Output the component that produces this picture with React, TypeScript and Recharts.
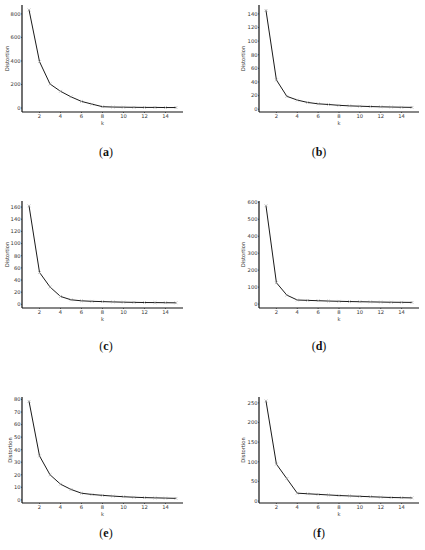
import { LineChart, Line, XAxis, YAxis } from 'recharts';

// k = 1..15 for every panel
const kValues = [1, 2, 3, 4, 5, 6, 7, 8, 9, 10, 11, 12, 13, 14, 15];
const kTicks = [2, 4, 6, 8, 10, 12, 14];

const distortionA = [834, 394, 204, 142, 95, 56, 33, 11, 8, 7, 6, 5, 5, 4, 4];
const distortionB = [145, 43, 19, 13.5, 10, 8, 7, 5.8, 5, 4.5, 4, 3.6, 3.3, 3, 2.8];
const distortionC = [162, 52.5, 28.5, 13, 7.5, 5.8, 5, 4.5, 4, 3.6, 3.3, 3, 2.9, 2.7, 2.5];
const distortionD = [580, 126, 53, 24, 22, 20, 18, 16.5, 15, 14, 13, 12, 11, 10.5, 10];
const distortionE = [78.5, 35, 20, 12.5, 8.3, 5.3, 4.3, 3.6, 3, 2.5, 2.1, 1.8, 1.6, 1.4, 1.2];
const distortionF = [255, 94, 57, 20, 18.5, 17, 15.5, 14, 13, 12, 11, 10, 9, 8.5, 8];

const ticksA = [0, 200, 400, 600, 800];
const ticksB = [0, 20, 40, 60, 80, 100, 120, 140];
const ticksC = [0, 20, 40, 60, 80, 100, 120, 140, 160];
const ticksD = [0, 100, 200, 300, 400, 500, 600];
const ticksE = [0, 10, 20, 30, 40, 50, 60, 70, 80];
const ticksF = [0, 50, 100, 150, 200, 250];

const toRows = (values: number[]) => kValues.map((k, i) => ({ k, d: values[i] }));

const XMark = (props: any) => {
  const { cx, cy } = props;
  if (cx == null || cy == null) return null;
  const s = 1.4;
  return (
    <path
      d={`M${cx - s},${cy - s}L${cx + s},${cy + s}M${cx - s},${cy + s}L${cx + s},${cy - s}`}
      stroke="#9a9a9a"
      strokeWidth={0.6}
      fill="none"
    />
  );
};

interface PanelProps {
  values: number[];
  ticks: number[];
  domain: [number, number];
  ox: number;
  top: number;
  bottom: number;
  right: number;
  labelOffset: number;
  caption: string;
  captionY: number;
}

const font = 'DejaVu Sans';
const tickStyle = { fontSize: 5.2, fill: '#333', fontFamily: font };
const labelStyle = { fontSize: 5.2, fill: '#333', fontFamily: font };

function Panel({ values, ticks, domain, ox, top, bottom, right, labelOffset, caption, captionY }: PanelProps) {
  const yw = 22;
  const xh = 18;
  const width = right - ox + yw + 6;
  const height = bottom - top + 5 + xh;
  const cx = ox > 200 ? 319 : 106;
  return (
    <>
      <div style={{ position: 'absolute', left: ox - yw, top: top - 5 }}>
        <LineChart
          width={width}
          height={height}
          data={toRows(values)}
          margin={{ top: 5, right: 6, left: 0, bottom: 0 }}
        >
          <XAxis
            dataKey="k"
            type="number"
            domain={[0.33, 15.67]}
            ticks={kTicks}
            allowDataOverflow
            height={xh}
            tick={tickStyle}
            tickSize={1}
            tickMargin={1}
            axisLine={{ stroke: '#111', strokeWidth: 1.2 }}
            tickLine={{ stroke: '#111', strokeWidth: 0.6 }}
            label={{ value: 'k', position: 'insideBottom', offset: 5, fill: '#333', style: labelStyle }}
          />
          <YAxis
            type="number"
            domain={domain}
            ticks={ticks}
            allowDataOverflow
            width={yw}
            tick={tickStyle}
            tickSize={1}
            tickMargin={0.5}
            axisLine={{ stroke: '#111', strokeWidth: 1.2 }}
            tickLine={{ stroke: '#111', strokeWidth: 0.6 }}
            label={{
              value: 'Distortion',
              angle: -90,
              position: 'insideLeft',
              offset: labelOffset,
              fill: '#333',
              style: { ...labelStyle, textAnchor: 'middle' }
            }}
          />
          <Line
            type="linear"
            dataKey="d"
            stroke="#1a1a1a"
            strokeWidth={1}
            dot={<XMark />}
            activeDot={false}
            isAnimationActive={false}
          />
        </LineChart>
      </div>
      <div
        style={{
          position: 'absolute',
          left: cx - 30,
          width: 60,
          top: captionY - 8,
          textAlign: 'center',
          fontFamily: '"Liberation Serif", serif',
          fontSize: 12,
          lineHeight: '16px',
          color: '#111'
        }}
      >
        (<b>{caption}</b>)
      </div>
    </>
  );
}

export default function App() {
  return (
    <div style={{ position: 'absolute', left: 0, top: 0, width: 425, height: 550, background: '#fff' }}>
      <Panel values={distortionA} ticks={ticksA} domain={[-34, 876]} ox={22} top={5} bottom={112} right={183} labelOffset={7} caption="a" captionY={152} />
      <Panel values={distortionB} ticks={ticksB} domain={[-4, 153]} ox={259} top={5} bottom={112} right={419} labelOffset={6} caption="b" captionY={152} />
      <Panel values={distortionC} ticks={ticksC} domain={[-6, 170]} ox={22} top={201} bottom={308} right={183} labelOffset={6.7} caption="c" captionY={346} />
      <Panel values={distortionD} ticks={ticksD} domain={[-23, 608]} ox={259} top={201} bottom={308} right={419} labelOffset={6} caption="d" captionY={346} />
      <Panel values={distortionE} ticks={ticksE} domain={[-2.5, 82]} ox={22} top={397} bottom={503} right={183} labelOffset={10} caption="e" captionY={533} />
      <Panel values={distortionF} ticks={ticksF} domain={[-5, 265]} ox={259} top={397} bottom={503} right={419} labelOffset={6} caption="f" captionY={533} />
    </div>
  );
}
